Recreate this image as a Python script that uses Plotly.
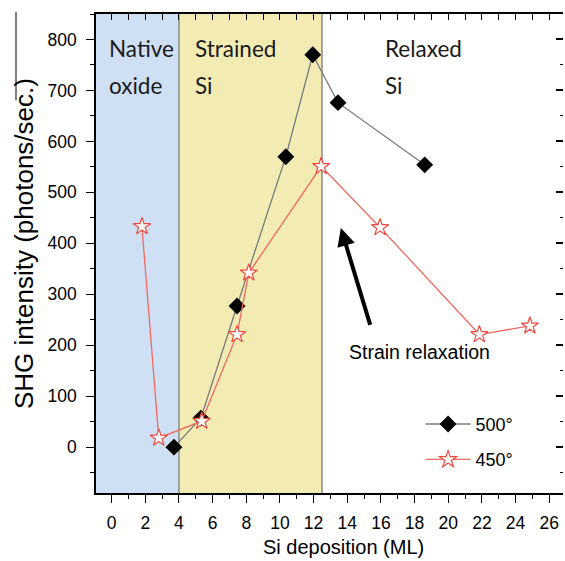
import plotly.graph_objects as go

# ---- data ----
x500 = [3.7, 5.3, 7.45, 10.35, 11.95, 13.45, 18.6]
y500 = [0, 57, 277, 570, 770, 676, 554]
x450 = [1.8, 2.8, 5.35, 7.45, 8.15, 12.45, 15.95, 21.85, 24.85]
y450 = [433, 18, 51, 221, 342, 551, 431, 221, 238]

regions = [(-1, 4, "#cfe0f5"), (4, 12.5, "#f2ecb4")]
region_labels = [("Native", "oxide", -0.3), ("Strained", "Si", 4.83), ("Relaxed", "Si", 16.1)]

xticks = list(range(0, 27, 2))
yticks = list(range(0, 801, 100))

SANS = "Liberation Sans, Arial"
LABEL_FONT = "Lato, Arial"

fig = go.Figure()

fig.add_trace(go.Scatter(
    x=x500, y=y500, mode="lines+markers", name="500°",
    line=dict(color="#7a7a7a", width=1.3),
    marker=dict(symbol="diamond", size=13, color="black", line=dict(width=0)),
    legendgroup="a",
))
fig.add_trace(go.Scatter(
    x=x450, y=y450, mode="lines+markers", name="450°",
    line=dict(color="#f06a60", width=1.3),
    marker=dict(symbol="star", size=13, color="white", line=dict(color="#f04a40", width=1.2)),
    legendgroup="b",
))

# shaded regions
for x0, x1, c in regions:
    fig.add_shape(type="rect", xref="x", yref="paper", x0=x0, x1=x1, y0=0, y1=1,
                  fillcolor=c, line=dict(width=0), layer="below")
for xb in [4, 12.5]:
    fig.add_shape(type="line", xref="x", yref="paper", x0=xb, x1=xb, y0=0, y1=1,
                  line=dict(color="#8a8a8a", width=1.5), layer="below")

# region labels
for l1, l2, xl in region_labels:
    fig.add_annotation(x=xl, y=783, xref="x", yref="y", text=l1, showarrow=False,
                       xanchor="left", yanchor="middle",
                       font=dict(family=LABEL_FONT, size=22.5, color="#1a1a1a"))
    fig.add_annotation(x=xl, y=710, xref="x", yref="y", text=l2, showarrow=False,
                       xanchor="left", yanchor="middle",
                       font=dict(family=LABEL_FONT, size=22.5, color="#1a1a1a"))

# arrow + text
fig.add_annotation(x=13.62, y=430, ax=15.39, ay=237, xref="x", yref="y", axref="x", ayref="y",
                   text="", showarrow=True, arrowhead=2, arrowsize=0.9, arrowwidth=4,
                   arrowcolor="black")
fig.add_annotation(x=13.98, y=186, xref="x", yref="y", text="Strain relaxation", showarrow=False,
                   xanchor="left", yanchor="middle",
                   font=dict(family=SANS, size=19.5, color="black"))

# axis titles
fig.add_annotation(x=-0.154, y=0.52, xref="paper", yref="paper",
                   text="SHG intensity (photons/sec.)", textangle=-90, showarrow=False,
                   xanchor="center", yanchor="middle",
                   font=dict(family=SANS, size=26, color="black"))
fig.add_annotation(x=0.531, y=-0.1127, xref="paper", yref="paper",
                   text="Si deposition (ML)", showarrow=False,
                   xanchor="center", yanchor="middle",
                   font=dict(family=SANS, size=20, color="black"))

# artifact line at left edge
fig.add_shape(type="line", xref="paper", yref="paper", x0=-0.1713, x1=-0.1713, y0=1.004, y1=0.82,
              line=dict(color="black", width=1))

axis_font = dict(family=SANS, size=17.5, color="black")

fig.update_layout(
    width=565, height=561,
    margin=dict(l=96, r=2, t=14, b=68),
    paper_bgcolor="white", plot_bgcolor="white",
    showlegend=True,
    legend=dict(x=0.695, y=0.182, xanchor="left", yanchor="top",
                font=dict(family=SANS, size=18, color="black"),
                bgcolor="white", borderwidth=0, traceorder="grouped", tracegroupgap=9,
                itemwidth=45),
    xaxis=dict(range=[-0.93, 26.82], tickvals=xticks, ticks="outside", ticklen=8, tickwidth=1.3,
               tickcolor="black", showline=True, linecolor="black", linewidth=1.5,
               showgrid=False, zeroline=False, tickfont=axis_font,
               minor=dict(dtick=1, ticks="outside", ticklen=4, tickwidth=1.3, tickcolor="black", showgrid=False),
               ticklabelstandoff=5),
    xaxis2=dict(range=[-0.93, 26.82], overlaying="x", side="top", anchor="y",
                tickvals=list(range(0, 27)), ticks="inside", ticklen=6, tickwidth=1.3,
                tickcolor="black", showticklabels=False, showline=True, linecolor="black",
                linewidth=1.5, showgrid=False, zeroline=False),
    yaxis=dict(range=[-90, 850], tickvals=yticks, ticks="outside", ticklen=8, tickwidth=1.3,
               tickcolor="black", showline=True, linecolor="black", linewidth=1.5,
               showgrid=False, zeroline=False, tickfont=axis_font,
               minor=dict(dtick=50, ticks="outside", ticklen=4, tickwidth=1.3, tickcolor="black", showgrid=False),
               ticklabelstandoff=6),
    yaxis2=dict(range=[-90, 850], overlaying="y", side="right", anchor="x",
                tickvals=yticks, ticks="inside", ticklen=7, tickwidth=1.5, tickcolor="black",
                showticklabels=False, showline=False, showgrid=False, zeroline=False,
                minor=dict(dtick=50, ticks="inside", ticklen=3, tickwidth=1.3, tickcolor="black", showgrid=False)),
)

# invisible trace to activate the overlay axes
fig.add_trace(go.Scatter(x=[None], y=[None], xaxis="x2", yaxis="y2", showlegend=False, hoverinfo="skip"))

fig.write_html("out.html")
